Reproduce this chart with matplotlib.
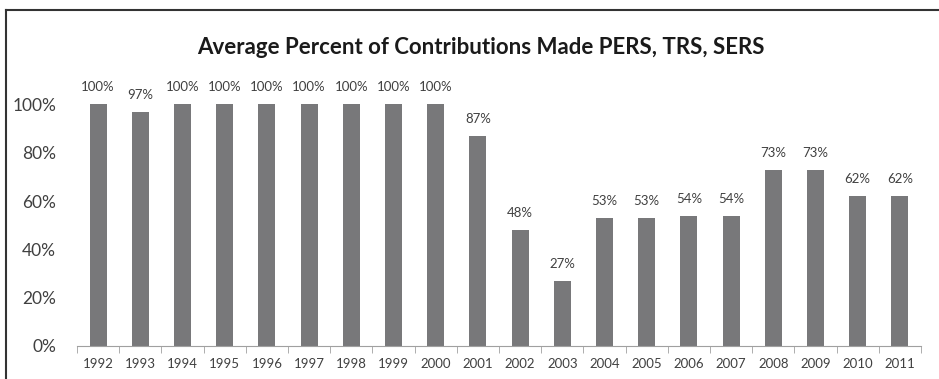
import matplotlib
matplotlib.use("Agg")
import matplotlib.pyplot as plt
from matplotlib.lines import Line2D
import numpy as np

years = [str(y) for y in range(1992, 2012)]
pct = [100, 97, 100, 100, 100, 100, 100, 100, 100, 87,
       48, 27, 53, 53, 54, 54, 73, 73, 62, 62]

plt.rcParams["font.family"] = ["Lato", "DejaVu Sans"]

W, H = 939, 379
fig = plt.figure(figsize=(W / 100, H / 100), dpi=100)
ax = fig.add_axes([77 / W, 1 - 346 / H, (921 - 77) / W, 290 / H])

x = np.arange(len(years))
ax.bar(x, pct, width=0.4, color="#78787a")
for xi, v in zip(x, pct):
    ax.text(xi, v + 4.5, f"{v}%", ha="center", va="bottom", fontsize=9.5, color="#404040")

ax.set_xlim(-0.5, len(years) - 0.5)
ax.set_ylim(0, 120)
ax.set_yticks([0, 20, 40, 60, 80, 100])
ax.set_yticklabels([f"{t}%" for t in [0, 20, 40, 60, 80, 100]], fontsize=12.5, color="#404040")
ax.tick_params(axis="y", length=0, pad=15)
ax.set_xticks(x)
ax.set_xticklabels(years, fontsize=9.5, color="#404040")
ax.set_xticks(np.arange(len(years) + 1) - 0.5, minor=True)
ax.tick_params(axis="x", which="major", length=0, pad=9)
ax.tick_params(axis="x", which="minor", length=5, color="#a0a0a0", direction="out")
for s in ["top", "right", "left"]:
    ax.spines[s].set_visible(False)
ax.spines["bottom"].set_color("#a0a0a0")

fig.text(481 / W, 1 - 48 / H, "Average Percent of Contributions Made PERS, TRS, SERS",
         ha="center", va="center", fontsize=16, fontweight="bold", color="#1a1a1a")

# frame: top and left edges only (screenshot is cropped on the other sides)
top_y = 1 - 10 / H
left_x = 6 / W
fig.add_artist(Line2D([left_x, 1], [top_y, top_y], transform=fig.transFigure,
                      color="#333333", linewidth=1.5))
fig.add_artist(Line2D([left_x, left_x], [0, top_y], transform=fig.transFigure,
                      color="#333333", linewidth=1.5))

fig.savefig("out.png", dpi=100)
